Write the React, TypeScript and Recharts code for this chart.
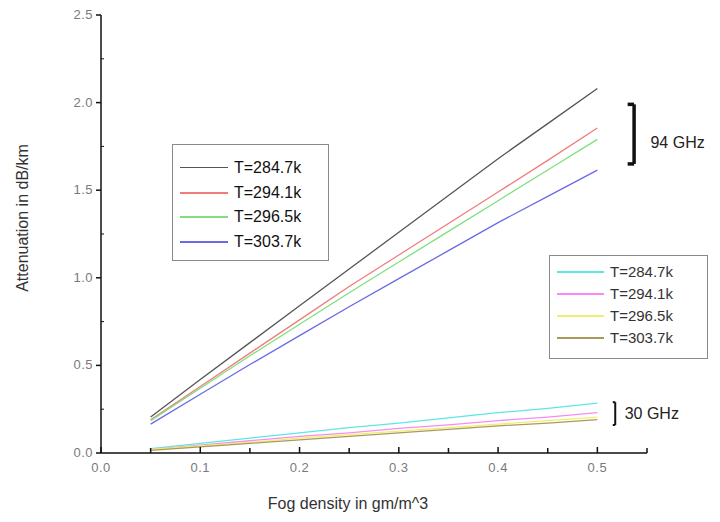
import React from "react";
import { LineChart, Line, XAxis, YAxis, ReferenceLine, ReferenceDot } from "recharts";

// fog density (gm/m^3)
const density = [0.05, 0.1, 0.15, 0.2, 0.25, 0.3, 0.35, 0.4, 0.45, 0.5];

// 94 GHz attenuation (dB/km)
const ghz94T2847 = [0.205, 0.42, 0.63, 0.84, 1.05, 1.26, 1.47, 1.68, 1.88, 2.08];
const ghz94T2941 = [0.19, 0.38, 0.57, 0.76, 0.95, 1.13, 1.31, 1.49, 1.67, 1.855];
const ghz94T2965 = [0.185, 0.37, 0.555, 0.735, 0.915, 1.09, 1.265, 1.44, 1.615, 1.79];
const ghz94T3037 = [0.165, 0.335, 0.505, 0.67, 0.835, 0.995, 1.155, 1.315, 1.465, 1.615];

// 30 GHz attenuation (dB/km)
const ghz30T2847 = [0.025, 0.055, 0.085, 0.115, 0.145, 0.17, 0.2, 0.23, 0.255, 0.285];
const ghz30T2941 = [0.02, 0.045, 0.07, 0.095, 0.115, 0.14, 0.16, 0.185, 0.205, 0.23];
const ghz30T2965 = [0.02, 0.04, 0.06, 0.085, 0.105, 0.125, 0.145, 0.165, 0.185, 0.205];
const ghz30T3037 = [0.015, 0.035, 0.055, 0.075, 0.095, 0.115, 0.135, 0.155, 0.17, 0.19];

const tempLabels = ["T=284.7k", "T=294.1k", "T=296.5k", "T=303.7k"];
const colors94 = ["#555555", "#f07c7c", "#7ee07e", "#6a6ae6"];
const colors30 = ["#5ee6e6", "#f78af7", "#f2ee6a", "#a89a5c"];

const xTicks = [0, 0.05, 0.1, 0.15, 0.2, 0.25, 0.3, 0.35, 0.4, 0.45, 0.5, 0.55];
const yTicks = [0, 0.25, 0.5, 0.75, 1, 1.25, 1.5, 1.75, 2, 2.25, 2.5];

const series94 = [ghz94T2847, ghz94T2941, ghz94T2965, ghz94T3037];
const series30 = [ghz30T2847, ghz30T2941, ghz30T2965, ghz30T3037];

const data = density.map((d, i) => {
  const row: Record<string, number> = { d };
  series94.forEach((s, k) => (row[`a${k}`] = s[i]));
  series30.forEach((s, k) => (row[`b${k}`] = s[i]));
  return row;
});

const FONT = "'Liberation Sans', Arial, sans-serif";

function isMajor(v: number, step: number) {
  return Math.abs(v / step - Math.round(v / step)) < 1e-6;
}

function XTick(props: any) {
  const { x, y, payload } = props;
  const major = isMajor(payload.value, 0.1);
  return (
    <g>
      <line x1={x} x2={x} y1={y} y2={y - (major ? 6 : 5)} stroke="#111" strokeWidth={1.5} />
      {major && (
        <text x={x} y={y + 19} textAnchor="middle" fill="#7a7a7a" fontSize={13} letterSpacing={0.5} fontFamily={FONT}>
          {payload.value.toFixed(1)}
        </text>
      )}
    </g>
  );
}

function YTick(props: any) {
  const { x, y, payload } = props;
  const major = isMajor(payload.value, 0.5);
  return (
    <g>
      {major ? (
        <line x1={x - 5} x2={x} y1={y} y2={y} stroke="#111" strokeWidth={1.5} />
      ) : (
        <line x1={x} x2={x + 3} y1={y} y2={y} stroke="#111" strokeWidth={1} />
      )}
      {major && (
        <text x={x - 8} y={y + 4} textAnchor="end" fill="#7a7a7a" fontSize={13} letterSpacing={0.5} fontFamily={FONT}>
          {payload.value.toFixed(1)}
        </text>
      )}
    </g>
  );
}

function LegendBox({ left, top, width, height, colors, widths, rowGap, lineLeft, lineRight, fontSize, first, textColor }: any) {
  return (
    <div
      style={{
        position: "absolute",
        left,
        top,
        width,
        height,
        border: "1.5px solid #8a8a8a",
        background: "#fff",
        boxSizing: "border-box",
      }}
    >
      {tempLabels.map((t, i) => (
        <div key={t} style={{ position: "absolute", top: first + i * rowGap - top - 10, left: 0, height: 20, width: "100%" }}>
          <div
            style={{
              position: "absolute",
              left: lineLeft - left,
              width: lineRight - lineLeft,
              top: 9,
              height: 0,
              borderTop: `${widths[i]}px solid ${colors[i]}`,
            }}
          />
          <span
            style={{
              position: "absolute",
              left: lineRight - left + 6,
              top: 0,
              lineHeight: "20px",
              fontSize,
              fontFamily: FONT,
              color: textColor,
              whiteSpace: "nowrap",
            }}
          >
            {t}
          </span>
        </div>
      ))}
    </div>
  );
}

function Bracket({ x1, x2, yTop, yBot, width }: any) {
  return (
    <>
      <ReferenceLine segment={[{ x: x2, y: yTop }, { x: x2, y: yBot }]} stroke="#111" strokeWidth={width} ifOverflow="visible" />
      <ReferenceLine segment={[{ x: x1, y: yTop }, { x: x2, y: yTop }]} stroke="#111" strokeWidth={width} ifOverflow="visible" />
      <ReferenceLine segment={[{ x: x1, y: yBot }, { x: x2, y: yBot }]} stroke="#111" strokeWidth={width} ifOverflow="visible" />
    </>
  );
}

export default function App() {
  return (
    <div style={{ position: "absolute", left: 0, top: 0, width: 720, height: 522, background: "#fff" }}>
      <LineChart width={720} height={522} data={data} margin={{ top: 15, right: 73, bottom: 9, left: 0 }}>
        <XAxis
          dataKey="d"
          type="number"
          domain={[0, 0.55]}
          ticks={xTicks}
          interval={0}
          height={60}
          tickSize={0}
          tickMargin={0}
          tickLine={false}
          tick={<XTick />}
          axisLine={{ stroke: "#111", strokeWidth: 1.5 }}
          label={{
            content: () => (
              <text x={348} y={509} textAnchor="middle" fill="#333" fontSize={16} fontFamily={FONT}>
                Fog density in gm/m^3
              </text>
            ),
          }}
        />
        <YAxis
          type="number"
          domain={[0, 2.5]}
          ticks={yTicks}
          interval={0}
          width={101}
          tickSize={0}
          tickMargin={0}
          tickLine={false}
          tick={<YTick />}
          axisLine={{ stroke: "#111", strokeWidth: 1.5 }}
          label={{
            content: () => (
              <text
                x={28}
                y={218}
                transform="rotate(-90, 28, 218)"
                textAnchor="middle"
                fill="#333"
                fontSize={16}
                fontFamily={FONT}
              >
                Attenuation in dB/km
              </text>
            ),
          }}
        />
        {colors94.map((c, k) => (
          <Line key={`a${k}`} dataKey={`a${k}`} stroke={c} strokeWidth={1.3} dot={false} isAnimationActive={false} type="linear" />
        ))}
        {colors30.map((c, k) => (
          <Line key={`b${k}`} dataKey={`b${k}`} stroke={c} strokeWidth={1.3} dot={false} isAnimationActive={false} type="linear" />
        ))}
        {Bracket({ x1: 0.5305, x2: 0.537, yTop: 1.99, yBot: 1.65, width: 3.5 })}
        {Bracket({ x1: 0.5155, x2: 0.518, yTop: 0.29, yBot: 0.16, width: 2 })}
        <ReferenceDot
          x={0.5525}
          y={1.775}
          r={1}
          fill="none"
          stroke="none"
          ifOverflow="visible"
          label={{ value: "94 GHz", position: "right", offset: 0, fill: "#222", fontSize: 16, fontFamily: FONT }}
        />
        <ReferenceDot
          x={0.5265}
          y={0.228}
          r={1}
          fill="none"
          stroke="none"
          ifOverflow="visible"
          label={{ value: "30 GHz", position: "right", offset: 0, fill: "#222", fontSize: 16, fontFamily: FONT }}
        />
      </LineChart>
      <LegendBox
        left={172}
        top={144}
        width={157}
        height={117}
        colors={colors94}
        widths={[1.5, 2, 2, 2]}
        first={167}
        rowGap={24.5}
        lineLeft={179}
        lineRight={227}
        fontSize={16}
        textColor="#111"
      />
      <LegendBox
        left={549}
        top={255}
        width={159}
        height={104}
        colors={colors30}
        widths={[2, 2, 2, 2]}
        first={271}
        rowGap={22}
        lineLeft={556}
        lineRight={603}
        fontSize={15}
        textColor="#333"
      />
    </div>
  );
}
